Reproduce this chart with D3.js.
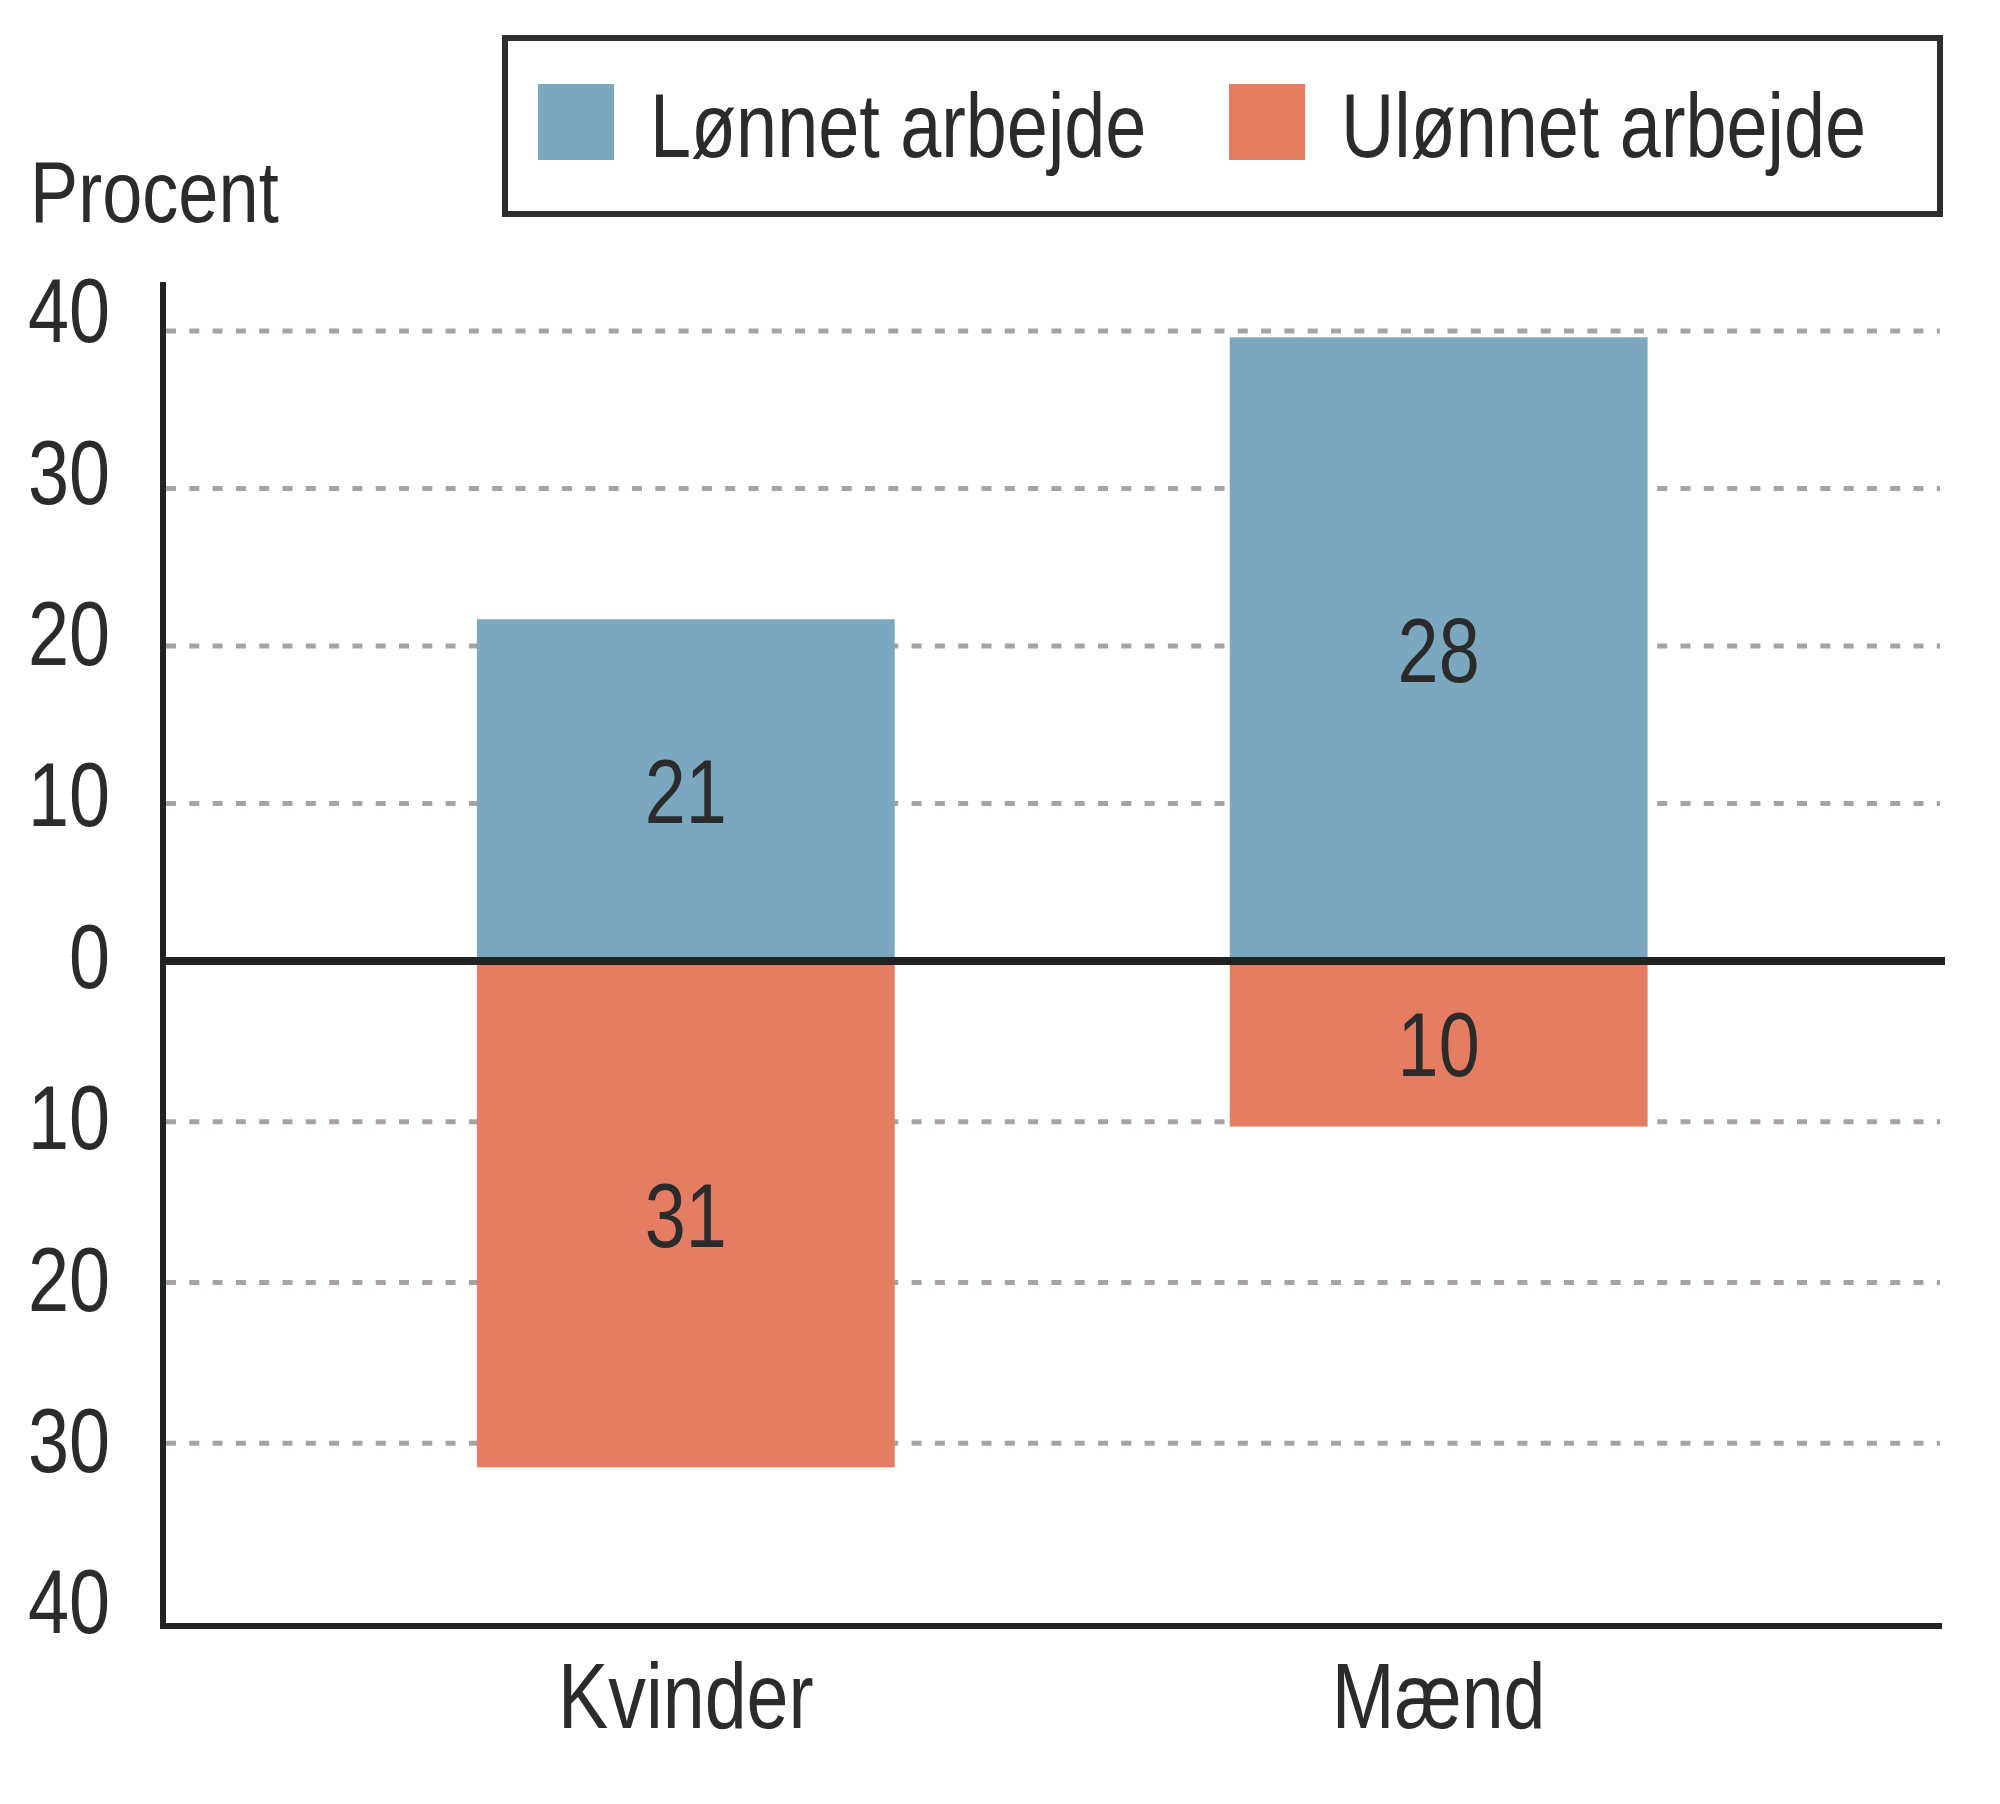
<!DOCTYPE html>
<html>
<head>
<meta charset="utf-8">
<script src="https://cdn.jsdelivr.net/npm/d3@7"></script>
<style>
  body { margin: 0; background: #fff; }
  text { font-family: 'Liberation Sans Narrow', 'Liberation Sans', sans-serif; fill: #2b2b2b; }
</style>
</head>
<body>
<div id="chart"></div>
<script>
// data
const categories = ['Kvinder', 'Mænd'];
const seriesNames = ['Lønnet arbejde', 'Ulønnet arbejde'];
// bar lengths as they are drawn in the picture
const paidWork = [21.7, 39.6];
const unpaidWork = [31.5, 10.3];
// numbers printed on the bars
const paidLabels = ['21', '28'];
const unpaidLabels = ['31', '10'];
const yTicks = [40, 30, 20, 10, 0, -10, -20, -30, -40];
const gridTicks = [40, 30, 20, 10, -10, -20, -30];

const colors = ['#7ba8bf', '#e47d61'];
const width = 2000, height = 1804;
// the original face is a condensed one; squeeze the regular face
const squeeze = 0.82;
const place = (px, py) => `translate(${px},${py}) scale(${squeeze},1)`;

const svg = d3.select('#chart')
  .append('svg')
  .attr('width', width)
  .attr('height', height);

// scales
const x = d3.scaleBand()
  .domain(categories)
  .range([163, 1942])
  .paddingInner(0.445)
  .paddingOuter(0.404)
  .align(0.516);

const y = d3.scaleLinear()
  .domain([-40, 0, 40])
  .range([1604, 961, 331]);

// tick labels sit on a slightly different spacing than the grid
const yLabel = d3.scaleLinear()
  .domain([-40, 40])
  .range([1604, 313]);

// gridlines
svg.append('g')
  .selectAll('line')
  .data(gridTicks)
  .enter()
  .append('line')
  .attr('x1', 166)
  .attr('x2', 1940)
  .attr('y1', d => y(d))
  .attr('y2', d => y(d))
  .attr('stroke', '#a9a2a2')
  .attr('stroke-width', 5)
  .attr('stroke-dasharray', '10,13.3');

// bars
const bars = svg.append('g');
bars.selectAll('rect.paid')
  .data(paidWork)
  .enter()
  .append('rect')
  .attr('class', 'paid')
  .attr('x', (d, i) => x(categories[i]))
  .attr('width', x.bandwidth())
  .attr('y', d => y(d))
  .attr('height', d => y(0) - y(d))
  .attr('fill', colors[0]);

bars.selectAll('rect.unpaid')
  .data(unpaidWork)
  .enter()
  .append('rect')
  .attr('class', 'unpaid')
  .attr('x', (d, i) => x(categories[i]))
  .attr('width', x.bandwidth())
  .attr('y', y(0))
  .attr('height', d => y(-d) - y(0))
  .attr('fill', colors[1]);

// value labels
const labels = svg.append('g')
  .attr('text-anchor', 'middle')
  .style('font-size', '90px');
labels.selectAll('text.paid')
  .data(paidWork)
  .enter()
  .append('text')
  .attr('transform', (d, i) => place(x(categories[i]) + x.bandwidth() / 2, (y(d) + y(0)) / 2))
  .attr('dy', '0.36em')
  .text((d, i) => paidLabels[i]);
labels.selectAll('text.unpaid')
  .data(unpaidWork)
  .enter()
  .append('text')
  .attr('transform', (d, i) => place(x(categories[i]) + x.bandwidth() / 2, (y(-d) + y(0)) / 2))
  .attr('dy', '0.36em')
  .text((d, i) => unpaidLabels[i]);

// zero line
svg.append('line')
  .attr('x1', 163)
  .attr('x2', 1945)
  .attr('y1', y(0))
  .attr('y2', y(0))
  .attr('stroke', '#222')
  .attr('stroke-width', 8);

// axes lines
svg.append('path')
  .attr('d', 'M163,282 V1626 H1942')
  .attr('fill', 'none')
  .attr('stroke', '#222')
  .attr('stroke-width', 6);

// y tick labels
const yAxis = svg.append('g')
  .attr('transform', 'translate(110,0)')
  .call(d3.axisLeft(yLabel).tickValues(yTicks).tickSize(0).tickPadding(0).tickFormat(d => Math.abs(d)));
yAxis.select('.domain').remove();
yAxis.selectAll('text')
  .attr('fill', '#2b2b2b')
  .attr('x', 0)
  .attr('transform', `scale(${squeeze},1)`)
  .style('font-size', '90px')
  .style('font-family', null);

// x category labels
const xAxis = svg.append('g')
  .attr('transform', 'translate(0,1728)')
  .call(d3.axisBottom(x).tickSize(0).tickPadding(0));
xAxis.select('.domain').remove();
xAxis.selectAll('text')
  .attr('y', 0)
  .attr('dy', 0)
  .attr('fill', '#2b2b2b')
  .attr('transform', `scale(${squeeze},1)`)
  .style('font-size', '92px')
  .style('font-family', null);

// y title
svg.append('text')
  .attr('transform', place(30, 222))
  .style('font-size', '88px')
  .text('Procent');

// legend
const legend = svg.append('g');
legend.append('rect')
  .attr('x', 505)
  .attr('y', 38)
  .attr('width', 1435)
  .attr('height', 176)
  .attr('fill', 'none')
  .attr('stroke', '#2e2e2e')
  .attr('stroke-width', 6);

const legendX = [538, 1229];
legend.selectAll('rect.swatch')
  .data(seriesNames)
  .enter()
  .append('rect')
  .attr('class', 'swatch')
  .attr('x', (d, i) => legendX[i])
  .attr('y', 84)
  .attr('width', 76)
  .attr('height', 76)
  .attr('fill', (d, i) => colors[i]);

legend.selectAll('text')
  .data(seriesNames)
  .enter()
  .append('text')
  .attr('transform', (d, i) => place(legendX[i] + 112, 157))
  .style('font-size', '90px')
  .text(d => d);
</script>
</body>
</html>
